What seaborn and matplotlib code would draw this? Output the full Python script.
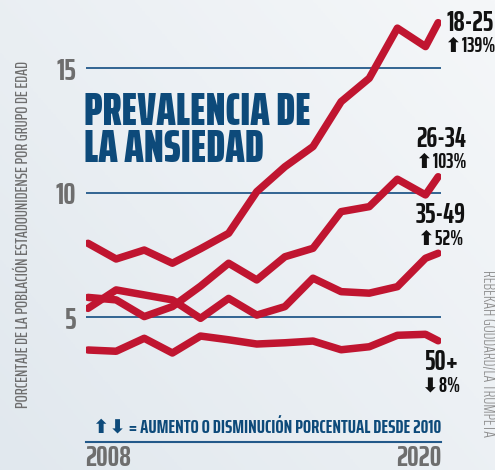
import numpy as np
import pandas as pd
import matplotlib
matplotlib.use("Agg")
import matplotlib.pyplot as plt
import seaborn as sns
from matplotlib.colors import LinearSegmentedColormap

# ---------------- data ----------------
years = [2008, 2009, 2010, 2011, 2012, 2013, 2014, 2015, 2016, 2017, 2018, 2019, 2020, 2020.45]
age_groups = ["18-25", "26-34", "35-49", "50+"]
v_18_25 = [7.97, 7.34, 7.70, 7.17, 7.75, 8.37, 10.04, 11.04, 11.85, 13.65, 14.59, 16.60, 15.86, 16.82]
v_26_34 = [5.80, 5.70, 5.03, 5.43, 6.25, 7.17, 6.50, 7.43, 7.77, 9.24, 9.44, 10.54, 9.91, 10.64]
v_35_49 = [5.36, 6.10, 5.90, 5.70, 4.96, 5.76, 5.09, 5.43, 6.57, 6.03, 5.97, 6.23, 7.37, 7.57]
v_50_plus = [3.69, 3.64, 4.16, 3.57, 4.25, 4.10, 3.93, 3.98, 4.05, 3.70, 3.82, 4.28, 4.32, 4.06]
changes = ["\u2b06139%", "\u2b06103%", "\u2b0652%", "\u2b078%"]
y_ticks = [5, 10, 15]
y_tick_labels = ["5", "10", "15"]
year_labels = ["2008", "2020"]
title_lines = ["PREVALENCIA DE", "LA ANSIEDAD"]
y_axis_label = "PORCENTAJE DE LA POBLACIÓN ESTADOUNIDENSE POR GRUPO DE EDAD"
note_text = "\u2b06\u2b07 = AUMENTO O DISMINUCIÓN PORCENTUAL DESDE 2010"
credit_text = "REBEKAH GODDARD/LA TRUMPETA"

series = [v_18_25, v_26_34, v_35_49, v_50_plus]
df = pd.DataFrame({
    "year": np.tile(years, len(age_groups)),
    "value": np.concatenate(series),
    "group": np.repeat(age_groups, len(years)),
})

# ---------------- style ----------------
sns.set_theme(style="white")
COND = ["Saira ExtraCondensed", "DejaVu Sans"]
plt.rcParams["font.family"] = COND

RED = "#c01530"
NAVY = "#0d4a7a"
GRID = "#23598a"
GRAY = "#6e6e6e"

W, H = 495, 470
fig = plt.figure(figsize=(W / 100, H / 100), dpi=100)

# background gradient
bg = fig.add_axes([0, 0, 1, 1], zorder=-10)
gx, gy = np.meshgrid(np.linspace(0, 1, 200), np.linspace(0, 1, 200))
grad = 0.55 * gx + 0.45 * (1 - gy)
cmap = LinearSegmentedColormap.from_list("bg", ["#e1e8ee", "#f5f7f9"])
bg.imshow(grad, cmap=cmap, aspect="auto", extent=[0, 1, 0, 1], origin="upper")
bg.set_axis_off()


def px(x):
    return x / W


def py(y):
    return 1 - y / H


ax = fig.add_axes([px(86), py(442), px(441) - px(86), (442 - 5.7) / H])
ax.patch.set_alpha(0)

for yv in y_ticks:
    ax.axhline(yv, color=GRID, lw=1.3, zorder=1)

sns.lineplot(data=df, x="year", y="value", units="group", estimator=None,
             color=RED, lw=5.4, ax=ax, legend=False, zorder=3,
             solid_capstyle="round", solid_joinstyle="round")

ax.set_xlim(2007.929, 2020.551)
ax.set_ylim(0, 17.5)
ax.set_xlabel("")
ax.set_ylabel("")
ax.set_xticks([])
ax.set_yticks(y_ticks)
ax.set_yticklabels(y_tick_labels, color=GRAY, fontsize=22, fontweight=700,
                   family=COND)
ax.tick_params(axis="y", length=0, pad=7)
for s in ["left", "right", "top"]:
    ax.spines[s].set_visible(False)
ax.spines["bottom"].set_color(GRID)
ax.spines["bottom"].set_linewidth(1.5)

# year labels
fig.text(px(85), py(466), year_labels[0], ha="left", va="baseline",
         color=GRAY, fontsize=21, fontweight=700, family=COND)
fig.text(px(441.5), py(466), year_labels[1], ha="right", va="baseline",
         color=GRAY, fontsize=21, fontweight=700, family=COND)

# title
fig.text(px(84), py(125), title_lines[0], ha="left", va="baseline",
         color=NAVY, fontsize=33, fontweight=900, family=COND)
fig.text(px(84), py(162.5), title_lines[1], ha="left", va="baseline",
         color=NAVY, fontsize=33, fontweight=900, family=COND)

# group labels
label_pos = [(470, 30.7, 52), (441, 146.7, 168.3), (441, 223.3, 245), (441.5, 370, 392)]
for grp, chg, (cx, by1, by2) in zip(age_groups, changes, label_pos):
    fig.text(px(cx), py(by1), grp, ha="center", va="baseline", color="#111111",
             fontsize=20, fontweight=700, family=COND)
    fig.text(px(cx), py(by2), chg, ha="center", va="baseline", color="#111111",
             fontsize=14.5, fontweight=700, family=COND)

# note
fig.text(px(441), py(433.3), note_text, ha="right", va="baseline", color=NAVY,
         fontsize=14, fontweight=700, family=COND)

# y-axis label
fig.text(px(23), py(235), y_axis_label, ha="center", va="center", rotation=90,
         color=GRAY, fontsize=12.2, fontweight=500, family=COND)

# credit
fig.text(px(488), py(353), credit_text, ha="center", va="center", rotation=270,
         color="#8a8a8a", fontsize=12, fontweight=300, family=COND)

fig.savefig("out.png", dpi=100)
